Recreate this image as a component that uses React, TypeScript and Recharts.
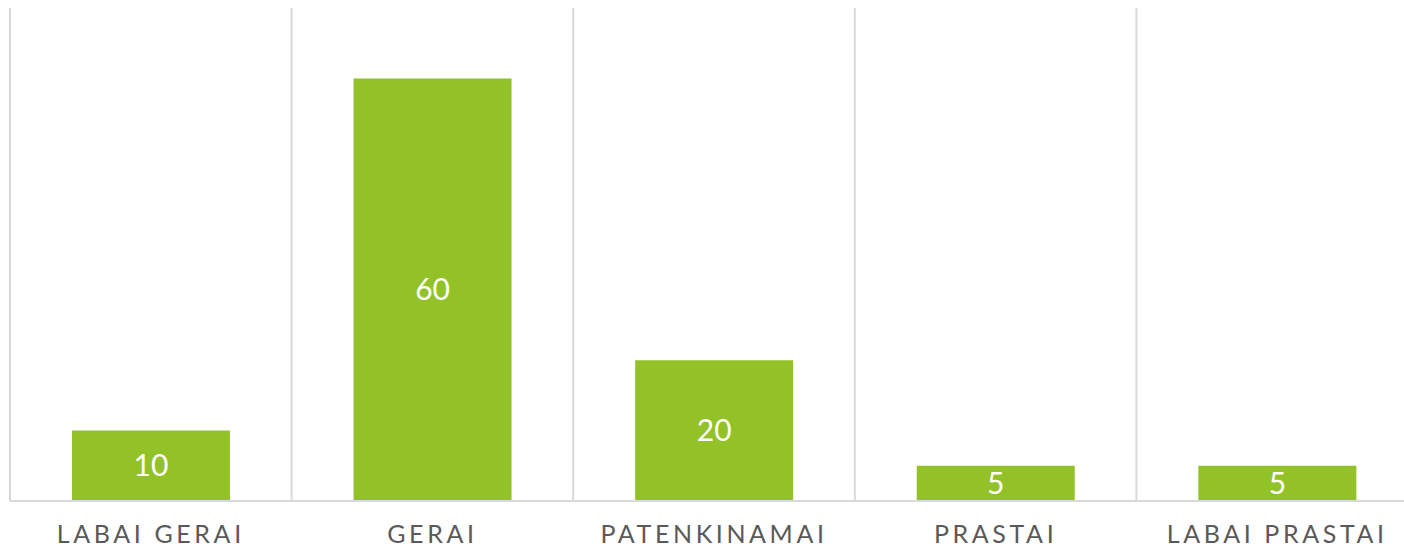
import React from 'react'
import { Bar, BarChart, CartesianGrid, LabelList, XAxis, YAxis } from 'recharts'

const categories = ['LABAI GERAI', 'GERAI', 'PATENKINAMAI', 'PRASTAI', 'LABAI PRASTAI']
const values = [10, 60, 20, 5, 5]

const data = categories.map((name, i) => ({ name, value: values[i] }))

// grid lines sit between categories, not under the ticks
const boundaries = ({ offset }: any) =>
  categories.map((_, i) => offset.left + (i * offset.width) / categories.length)

const App: React.FC = () => {
  return (
    <div
      style={{
        position: 'absolute',
        left: 0,
        top: 0,
        width: 1404,
        height: 550,
        overflow: 'hidden',
      }}
    >
      <BarChart
        width={1418}
        height={550}
        data={data}
        margin={{ top: 8, right: 0, bottom: 0, left: 10 }}
        barCategoryGap="22%"
      >
        <CartesianGrid
          horizontal={false}
          stroke="#d9d9d9"
          strokeWidth={2}
          verticalCoordinatesGenerator={boundaries}
        />
        <XAxis
          dataKey="name"
          height={49}
          axisLine={{ stroke: '#d9d9d9', strokeWidth: 2 }}
          tickLine={false}
          tickSize={0}
          tickMargin={24}
          interval={0}
          tick={{
            fill: '#595959',
            fontSize: 25,
            fontFamily: 'Lato, sans-serif',
            letterSpacing: 3.6,
          }}
        />
        <YAxis hide domain={[0, 70]} />
        <Bar dataKey="value" fill="#92c227" isAnimationActive={false}>
          <LabelList
            dataKey="value"
            position="center"
            fill="#ffffff"
            fontSize={30}
            fontFamily="Lato, sans-serif"
          />
        </Bar>
      </BarChart>
    </div>
  )
}

export default App
